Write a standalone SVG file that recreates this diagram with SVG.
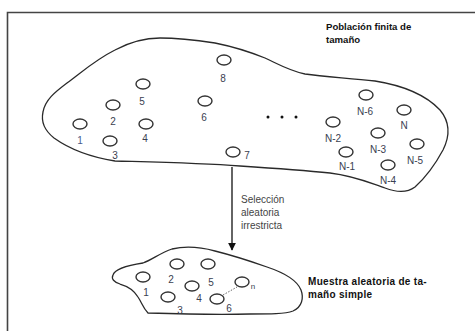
<svg xmlns="http://www.w3.org/2000/svg" width="475" height="331" viewBox="0 0 475 331">
<style>
.blob{fill:none;stroke:#2a2a2a;stroke-width:1.3;stroke-linejoin:round}
.el{fill:none;stroke:#333;stroke-width:1.4}
.lb{font-family:"Liberation Sans",Arial,sans-serif;font-size:10px;fill:#3a4050}
.tt{font-family:"Liberation Sans",Arial,sans-serif;font-size:9.6px;font-weight:bold;fill:#111}
.cap{font-family:"Liberation Sans",Arial,sans-serif;font-size:10px;fill:#444}
</style>
<defs>
<marker id="ah" viewBox="0 0 10 10" refX="9" refY="5" markerWidth="8" markerHeight="8" markerUnits="userSpaceOnUse" orient="auto">
<path d="M0,0 L10,5 L0,10 Z" fill="#111"/>
</marker>
</defs>
<rect x="0" y="0" width="475" height="331" fill="#fff"/>
<path d="M7.5,340 L7.5,12.5 L480,12.5" fill="none" stroke="#444" stroke-width="1.6"/>

<g id="population">
<path class="blob" d="M43,112 C45,100 55,92 67,83 C82,72 95,60 115,50 C130,42 145,38 160,38 C178,38 195,40 215,43 C235,47 250,52 265,58 C280,65 290,71 305,74 C325,77 350,78 375,81 C400,85 425,94 440,110 C450,122 450,136 443,150 C436,163 425,178 415,187 C407,193 398,193 385,188 C370,183 355,176 330,173 C300,170 270,168 240,166 C200,163 150,162 115,161 C90,157 68,148 54,138 C44,130 41,121 43,112 Z"/>
<text class="tt" x="326" y="30">Población finita de</text>
<text class="tt" x="326" y="43">tamaño</text>
</g>

<g id="p1"><ellipse class="el" cx="80" cy="124" rx="7" ry="5"/><text class="lb" x="80" y="144" text-anchor="middle" fill="#4a5a8a" style="fill:#4a5a8a">1</text></g>
<g id="p2"><ellipse class="el" cx="113" cy="105" rx="7" ry="5"/><text class="lb" x="113" y="125" text-anchor="middle">2</text></g>
<g id="p3"><ellipse class="el" cx="110" cy="141" rx="7" ry="5"/><text class="lb" x="115" y="159" text-anchor="middle">3</text></g>
<g id="p4"><ellipse class="el" cx="146" cy="124" rx="7" ry="5"/><text class="lb" x="145" y="142" text-anchor="middle">4</text></g>
<g id="p5"><ellipse class="el" cx="143" cy="84" rx="7" ry="5"/><text class="lb" x="142" y="105" text-anchor="middle">5</text></g>
<g id="p6"><ellipse class="el" cx="205" cy="101" rx="7" ry="5"/><text class="lb" x="204" y="121" text-anchor="middle">6</text></g>
<g id="p7"><ellipse class="el" cx="233" cy="152" rx="7" ry="5"/><text class="lb" x="247" y="159" text-anchor="middle">7</text></g>
<g id="p8"><ellipse class="el" cx="224" cy="60" rx="7" ry="5"/><text class="lb" x="223" y="82" text-anchor="middle">8</text></g>
<g id="dots" fill="#111"><circle cx="268" cy="117" r="1.5"/><circle cx="282" cy="117" r="1.5"/><circle cx="296" cy="117" r="1.5"/></g>
<g id="pN6"><ellipse class="el" cx="366" cy="95" rx="7" ry="5"/><text class="lb" x="365" y="115" text-anchor="middle">N-6</text></g>
<g id="pN"><ellipse class="el" cx="404" cy="110" rx="7" ry="5"/><text class="lb" x="404" y="129" text-anchor="middle">N</text></g>
<g id="pN2"><ellipse class="el" cx="333" cy="122" rx="7" ry="5"/><text class="lb" x="333" y="142" text-anchor="middle">N-2</text></g>
<g id="pN3"><ellipse class="el" cx="378" cy="133" rx="7" ry="5"/><text class="lb" x="378" y="153" text-anchor="middle">N-3</text></g>
<g id="pN5"><ellipse class="el" cx="417" cy="144" rx="7" ry="5"/><text class="lb" x="415" y="164" text-anchor="middle">N-5</text></g>
<g id="pN1"><ellipse class="el" cx="346" cy="152" rx="7" ry="5"/><text class="lb" x="347" y="170" text-anchor="middle">N-1</text></g>
<g id="pN4"><ellipse class="el" cx="388" cy="165" rx="7" ry="5"/><text class="lb" x="388" y="184" text-anchor="middle">N-4</text></g>

<g id="connectors">
<line x1="232" y1="167" x2="232" y2="250" stroke="#111" stroke-width="1.3" marker-end="url(#ah)"/>
<line x1="223" y1="295" x2="237" y2="287" stroke="#666" stroke-width="1" stroke-dasharray="1.5,1.5"/>
</g>
<g id="arrow-label">
<text class="cap" x="241" y="203">Selección</text>
<text class="cap" x="241" y="216">aleatoria</text>
<text class="cap" x="241" y="229">irrestricta</text>
</g>

<g id="sample">
<path class="blob" d="M113,275 C115,268 130,265 143,263 C152,260 160,253 172,249 C185,246 200,247 215,251 C235,256 250,261 267,267 C282,272 297,280 301,290 C304,298 302,307 293,311 C285,314 270,314 250,314 C215,315 180,314 148,313 C143,308 142,303 138,297 C134,290 127,286 120,284 C114,282 111,279 113,275 Z"/>
<text class="tt" x="308" y="285" style="font-size:10px;letter-spacing:0.3px">Muestra aleatoria de ta-</text>
<text class="tt" x="308" y="298" style="font-size:10px;letter-spacing:0.3px">maño simple</text>
</g>
<g id="s1"><ellipse class="el" cx="143" cy="277" rx="7" ry="5"/><text class="lb" x="146" y="296" text-anchor="middle">1</text></g>
<g id="s2"><ellipse class="el" cx="177" cy="264" rx="7" ry="5"/><text class="lb" x="171" y="283" text-anchor="middle">2</text></g>
<g id="s5"><ellipse class="el" cx="208" cy="264" rx="7" ry="5"/><text class="lb" x="211" y="286" text-anchor="middle">5</text></g>
<g id="s4"><ellipse class="el" cx="192" cy="286" rx="7" ry="5"/><text class="lb" x="199" y="302" text-anchor="middle">4</text></g>
<g id="s3"><ellipse class="el" cx="168" cy="297" rx="7" ry="5"/><text class="lb" x="180" y="314" text-anchor="middle">3</text></g>
<g id="s6"><ellipse class="el" cx="217" cy="299" rx="7" ry="5"/><text class="lb" x="229" y="312" text-anchor="middle">6</text></g>
<g id="sn"><ellipse class="el" cx="242" cy="282" rx="7" ry="5"/><text class="lb" x="253" y="289" text-anchor="middle" style="font-size:8px">n</text></g>
</svg>
